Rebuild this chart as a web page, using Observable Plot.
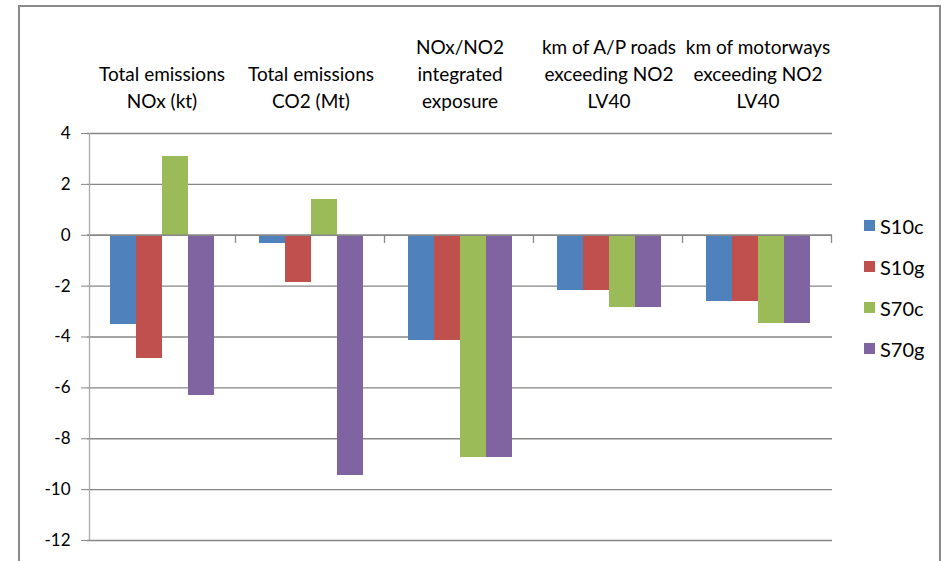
<!DOCTYPE html>
<html>
<head>
<meta charset="utf-8">
<script src="https://cdn.jsdelivr.net/npm/d3@7"></script>
<script src="https://cdn.jsdelivr.net/npm/@observablehq/plot@0.6"></script>
<style>
  html, body { margin: 0; padding: 0; background: #fff; }
  #wrap { position: relative; width: 941px; height: 561px; overflow: hidden; background: #fff; font-family: Lato, "Open Sans", sans-serif; }
  #border { position: absolute; left: 18px; top: 5px; width: 923px; height: 620px; border: 2px solid #8a8a8a; box-sizing: border-box; }
  #chart { position: absolute; left: 0; top: 0; }
  #legend { position: absolute; left: 864px; top: 205px; }
  .item { display: flex; align-items: center; height: 41px; font-size: 20px; color: #000; }
  .sw { width: 11px; height: 11px; margin-right: 5px; }
</style>
</head>
<body>
<div id="wrap">
  <div id="border"></div>
  <div id="chart"></div>
  <div id="legend"></div>
</div>
<script>
const categories = [
  "Total emissions\nNOx (kt)",
  "Total emissions\nCO2 (Mt)",
  "NOx/NO2\nintegrated\nexposure",
  "km of A/P roads\nexceeding NO2\nLV40",
  "km of motorways\nexceeding NO2\nLV40"
];
const series = ["S10c", "S10g", "S70c", "S70g"];
const colors = ["#4F81BD", "#C0504D", "#9BBB59", "#8064A2"];
const S10c = [-3.5, -0.34, -4.12, -2.16, -2.61];
const S10g = [-4.85, -1.87, -4.12, -2.16, -2.61];
const S70c = [3.11, 1.41, -8.73, -2.85, -3.48];
const S70g = [-6.31, -9.44, -8.73, -2.85, -3.48];
const yTicks = [-12, -10, -8, -6, -4, -2, 0, 2, 4];

const seriesValues = [S10c, S10g, S70c, S70g];
const data = [];
categories.forEach((c, i) => {
  series.forEach((s, j) => data.push({category: c, series: s, value: seriesValues[j][i]}));
});

const gridColor = "#868686";
const chart = Plot.plot({
  width: 941,
  height: 561,
  marginLeft: 87,
  marginRight: 109,
  marginTop: 133,
  marginBottom: 21,
  style: {fontFamily: "Lato, 'Open Sans', sans-serif", background: "transparent", color: "#000"},
  fx: {domain: categories, padding: 0},
  x: {domain: series, paddingInner: 0, paddingOuter: 0.76, axis: null},
  y: {domain: [-12, 4]},
  color: {domain: series, range: colors},
  marks: [
    Plot.ruleY(yTicks, {stroke: gridColor, strokeWidth: 1.3}),
    Plot.barY(data, {fx: "category", x: "series", y: "value", fill: "series", shapeRendering: "crispEdges"}),
    Plot.ruleY([0], {stroke: gridColor, strokeWidth: 1.3}),
    Plot.ruleX(categories, {fx: d => d, x: () => series[3], dx: 34, y1: 0, y2: -0.32, stroke: gridColor, strokeWidth: 1.3}),
    Plot.ruleX([categories[0]], {fx: d => d, x: () => series[0], dx: -34, y1: -12, y2: 4, stroke: "#a8a8a8", strokeWidth: 1.3}),
    Plot.axisY({ticks: yTicks, tickFormat: d => String(d), tickSize: 6, tickPadding: 11, stroke: gridColor, fontSize: 17, label: null}),
    Plot.axisFx({anchor: "top", tickSize: 0, tickPadding: 26, lineHeight: 1.42, fontSize: 19, label: null})
  ]
});
document.getElementById("chart").appendChild(chart);

const legend = document.getElementById("legend");
series.forEach((s, i) => {
  const item = document.createElement("div");
  item.className = "item";
  const sw = document.createElement("span");
  sw.className = "sw";
  sw.style.background = colors[i];
  const t = document.createElement("span");
  t.textContent = s;
  item.appendChild(sw);
  item.appendChild(t);
  legend.appendChild(item);
});
</script>
</body>
</html>
